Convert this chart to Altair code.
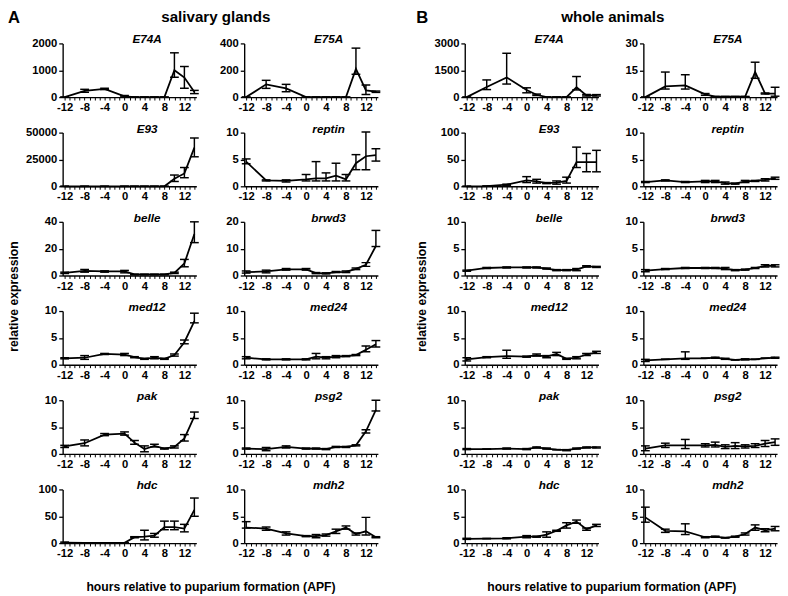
import altair as alt
import pandas as pd

FONT = "Liberation Sans"
W, H = 137, 55
XDOM = [-12.4, 14.4]

hours = [-12, -8, -4, 0, 2, 4, 6, 8, 10, 12, 14]
x_tick_values = list(range(-12, 15))

# ---------------- A: salivary glands ----------------
sg_genes = ["E74A", "E75A", "E93", "reptin", "belle", "brwd3",
            "med12", "med24", "pak", "psg2", "hdc", "mdh2"]
sg_ymax = [2000, 400, 50000, 10, 40, 20, 10, 10, 10, 10, 100, 10]

sg_E74A = [0, 235, 305, 30, 0, 0, 0, 0, 1000, 730, 190]
sg_E74A_lo = [0, 180, 280, 10, 0, 0, 0, 0, 740, 330, 130]
sg_E74A_hi = [0, 290, 330, 60, 0, 0, 0, 0, 1650, 1140, 250]

sg_E75A = [0, 95, 65, 0, 0, 0, 0, 0, 210, 50, 40]
sg_E75A_lo = [0, 65, 40, 0, 0, 0, 0, 0, 170, 20, 35]
sg_E75A_hi = [0, 125, 95, 0, 0, 0, 0, 0, 365, 90, 45]

sg_E93 = [0, 0, 0, 0, 0, 0, 0, 0, 7000, 12000, 36000]
sg_E93_lo = [0, 0, 0, 0, 0, 0, 0, 0, 4500, 8000, 27500]
sg_E93_hi = [0, 0, 0, 0, 0, 0, 0, 0, 10500, 17500, 45000]

sg_reptin = [4.6, 1.1, 1.0, 1.3, 1.5, 1.5, 2.0, 1.3, 4.3, 5.6, 5.8]
sg_reptin_lo = [4.2, 1.0, 0.8, 1.0, 1.0, 1.0, 1.0, 1.0, 3.1, 3.1, 4.7]
sg_reptin_hi = [5.1, 1.2, 1.2, 2.2, 4.6, 2.5, 4.3, 2.2, 5.9, 10.1, 7.0]

sg_belle = [2.0, 3.5, 3.0, 3.0, 0.8, 0.8, 0.8, 0.8, 2.0, 9.0, 31.0]
sg_belle_lo = [1.5, 2.5, 2.5, 2.0, 0.5, 0.5, 0.5, 0.5, 1.5, 6.5, 24.5]
sg_belle_hi = [2.5, 4.5, 3.5, 3.8, 1.0, 1.0, 1.0, 1.0, 2.5, 12.0, 40.0]

sg_brwd3 = [1.3, 1.5, 2.3, 2.3, 0.9, 0.8, 1.3, 1.4, 2.5, 4.0, 11.0]
sg_brwd3_lo = [0.9, 1.0, 2.0, 2.0, 0.7, 0.6, 1.1, 1.1, 2.2, 3.4, 10.8]
sg_brwd3_hi = [1.7, 2.0, 2.6, 2.6, 1.1, 1.0, 1.5, 1.7, 2.8, 4.8, 16.8]

sg_med12 = [1.2, 1.3, 2.0, 1.9, 1.4, 1.1, 1.3, 1.1, 1.8, 4.2, 8.1]
sg_med12_lo = [1.1, 1.0, 1.9, 1.7, 1.3, 1.0, 1.1, 1.0, 1.6, 3.9, 7.8]
sg_med12_hi = [1.3, 1.7, 2.1, 2.1, 1.5, 1.2, 1.5, 1.2, 2.0, 4.6, 9.6]

sg_med24 = [1.3, 1.0, 1.0, 1.0, 1.5, 1.3, 1.5, 1.6, 1.8, 2.8, 3.8]
sg_med24_lo = [1.1, 0.9, 0.9, 0.9, 1.1, 1.1, 1.3, 1.5, 1.7, 2.4, 3.3]
sg_med24_hi = [1.5, 1.1, 1.1, 1.1, 2.1, 1.5, 1.7, 1.7, 1.9, 3.5, 4.5]

sg_pak = [1.4, 2.0, 3.6, 3.8, 2.1, 0.9, 1.5, 1.0, 1.3, 2.9, 7.0]
sg_pak_lo = [1.2, 1.5, 3.4, 3.5, 1.8, 0.4, 1.3, 0.9, 1.1, 2.4, 6.6]
sg_pak_hi = [1.6, 2.6, 3.8, 4.1, 2.5, 1.5, 1.8, 1.1, 1.5, 3.6, 7.8]

sg_psg2 = [1.0, 0.9, 1.3, 1.0, 1.0, 0.9, 1.3, 1.3, 1.6, 4.2, 8.2]
sg_psg2_lo = [0.9, 0.6, 1.1, 0.9, 0.9, 0.8, 1.2, 1.2, 1.5, 3.9, 8.0]
sg_psg2_hi = [1.1, 1.2, 1.5, 1.1, 1.1, 1.0, 1.4, 1.4, 1.7, 4.5, 10.0]

sg_hdc = [1.0, 0.5, 0.5, 0.5, 11, 12, 14, 30, 30, 27, 62]
sg_hdc_lo = [0.0, 0.5, 0.5, 0.5, 10, 6, 11, 25, 25, 21, 50]
sg_hdc_hi = [2.0, 0.5, 0.5, 0.5, 12, 24, 18, 41, 41, 35, 84]

sg_mdh2 = [2.9, 2.7, 1.8, 1.3, 1.3, 1.5, 2.2, 2.9, 1.7, 2.2, 1.1]
sg_mdh2_lo = [2.8, 2.4, 1.5, 1.2, 1.0, 1.3, 1.8, 2.6, 1.5, 1.5, 1.0]
sg_mdh2_hi = [4.0, 3.0, 2.1, 1.4, 1.6, 1.7, 2.6, 3.2, 1.9, 4.8, 1.2]

# ---------------- B: whole animals ----------------
wa_genes = sg_genes
wa_ymax = [3000, 30, 100, 10, 10, 10, 10, 10, 10, 10, 10, 10]

wa_E74A = [0, 560, 1100, 400, 130, 0, 0, 0, 550, 100, 100]
wa_E74A_lo = [0, 420, 730, 240, 90, 0, 0, 0, 400, 60, 60]
wa_E74A_hi = [0, 960, 2450, 520, 170, 0, 0, 0, 1150, 150, 140]

wa_E75A = [0, 6.0, 6.5, 1.5, 0.3, 0.3, 0.3, 0.3, 14.0, 2.0, 2.0]
wa_E75A_lo = [0, 4.5, 4.5, 1.0, 0.3, 0.3, 0.3, 0.3, 10.5, 1.7, 0.5]
wa_E75A_hi = [0, 14.0, 12.5, 2.0, 0.3, 0.3, 0.3, 0.3, 19.5, 2.3, 5.5]

wa_E93 = [0, 0.5, 3, 11, 9, 6, 7, 10, 45, 45, 45]
wa_E93_lo = [0, 0.5, 2, 7, 6, 5, 4, 6, 35, 27, 27]
wa_E93_hi = [0, 0.5, 4, 18, 13, 7, 10, 17, 73, 61, 67]

wa_reptin = [0.8, 1.1, 0.8, 0.9, 0.9, 0.6, 0.5, 0.9, 1.0, 1.2, 1.5]
wa_reptin_lo = [0.7, 1.0, 0.7, 0.7, 0.7, 0.4, 0.4, 0.7, 0.9, 1.0, 1.3]
wa_reptin_hi = [0.9, 1.2, 0.9, 1.1, 1.1, 0.8, 0.6, 1.1, 1.1, 1.4, 1.7]

wa_belle = [0.9, 1.4, 1.5, 1.5, 1.5, 1.3, 1.0, 1.0, 1.1, 1.7, 1.6]
wa_belle_lo = [0.8, 1.3, 1.4, 1.4, 1.4, 1.2, 0.9, 0.9, 0.9, 1.6, 1.5]
wa_belle_hi = [1.0, 1.5, 1.6, 1.6, 1.6, 1.4, 1.1, 1.1, 1.3, 1.8, 1.7]

wa_brwd3 = [0.9, 1.2, 1.4, 1.4, 1.4, 1.3, 1.0, 1.1, 1.4, 1.8, 1.8]
wa_brwd3_lo = [0.7, 1.1, 1.3, 1.3, 1.3, 1.1, 0.9, 1.0, 1.3, 1.6, 1.6]
wa_brwd3_hi = [1.1, 1.3, 1.5, 1.5, 1.5, 1.5, 1.1, 1.2, 1.5, 2.0, 2.0]

wa_med12 = [1.0, 1.4, 1.6, 1.5, 1.8, 1.5, 2.0, 1.1, 1.3, 1.9, 2.3]
wa_med12_lo = [0.7, 1.3, 1.2, 1.4, 1.6, 1.3, 1.7, 1.0, 1.1, 1.7, 2.1]
wa_med12_hi = [1.3, 1.5, 2.7, 1.6, 2.0, 1.7, 2.3, 1.2, 1.5, 2.1, 2.5]

wa_med24 = [0.8, 1.0, 1.2, 1.2, 1.3, 1.1, 0.9, 1.0, 1.0, 1.2, 1.3]
wa_med24_lo = [0.6, 1.0, 1.0, 1.2, 1.2, 1.0, 0.9, 0.9, 1.0, 1.2, 1.2]
wa_med24_hi = [1.0, 1.0, 2.4, 1.2, 1.4, 1.2, 0.9, 1.1, 1.0, 1.2, 1.4]

wa_pak = [0.9, 0.9, 1.0, 0.9, 1.2, 1.0, 0.8, 0.7, 1.0, 1.2, 1.2]
wa_pak_lo = [0.8, 0.9, 0.9, 0.8, 1.1, 0.9, 0.8, 0.6, 0.9, 1.1, 1.1]
wa_pak_hi = [1.0, 0.9, 1.1, 1.0, 1.3, 1.1, 0.8, 0.8, 1.1, 1.3, 1.3]

wa_psg2 = [1.0, 1.6, 1.6, 1.6, 1.7, 1.3, 1.5, 1.4, 1.5, 1.9, 2.2]
wa_psg2_lo = [0.6, 1.2, 1.0, 1.3, 1.3, 1.0, 1.0, 1.1, 1.2, 1.4, 1.6]
wa_psg2_hi = [1.5, 2.0, 2.7, 1.9, 2.2, 1.7, 2.1, 1.7, 1.9, 2.5, 2.8]

wa_hdc = [0.8, 0.85, 0.9, 1.2, 1.2, 1.6, 2.3, 3.3, 4.0, 2.6, 3.3]
wa_hdc_lo = [0.7, 0.85, 0.8, 1.0, 1.1, 1.1, 2.2, 2.8, 3.7, 2.4, 3.1]
wa_hdc_hi = [0.9, 0.85, 1.0, 1.4, 1.3, 2.1, 2.4, 3.8, 4.3, 2.8, 3.5]

wa_mdh2 = [4.8, 2.3, 2.2, 1.1, 1.2, 1.0, 1.2, 1.7, 2.9, 2.4, 2.7]
wa_mdh2_lo = [3.9, 2.0, 1.6, 1.0, 1.1, 0.95, 1.1, 1.5, 2.4, 2.1, 2.3]
wa_mdh2_hi = [6.7, 2.6, 3.6, 1.2, 1.3, 1.05, 1.3, 1.9, 3.4, 2.7, 3.1]

G = globals()


def panel(gene, mean, lo, hi, ymax):
    df = pd.DataFrame({"hour": hours, "mean": mean, "lo": lo, "hi": hi})
    xs = alt.Scale(domain=XDOM, nice=False, zero=False)
    ys = alt.Scale(domain=[0, ymax], nice=False, zero=True)
    xax = alt.Axis(values=x_tick_values,
                   labelExpr="datum.value % 4 == 0 ? '' + datum.value : ''",
                   grid=False, tickSize=3, tickWidth=1, tickColor="black",
                   domainColor="black", domainWidth=1.4,
                   labelFont=FONT, labelFontSize=11.5, labelFontWeight="bold",
                   labelColor="black", labelPadding=2, labelOverlap=False,
                   labelFlush=False)
    yax = alt.Axis(values=[0, ymax / 2, ymax], format="d",
                   grid=False, tickSize=4, tickWidth=1.3, tickColor="black",
                   domainColor="black", domainWidth=1.4,
                   labelFont=FONT, labelFontSize=11.5, labelFontWeight="bold",
                   labelColor="black", labelPadding=2)
    X = alt.X("hour:Q", scale=xs, axis=xax, title=None)
    base = alt.Chart(df)
    bars = base.mark_rule(color="black", strokeWidth=1.5).encode(
        x=X, y=alt.Y("lo:Q", scale=ys, axis=yax, title=None), y2="hi:Q")
    cap_lo = base.mark_tick(orient="horizontal", size=9, thickness=1.5,
                            color="black", opacity=1).encode(
        x=X, y=alt.Y("lo:Q", scale=ys, axis=yax, title=None))
    cap_hi = base.mark_tick(orient="horizontal", size=9, thickness=1.5,
                            color="black", opacity=1).encode(
        x=X, y=alt.Y("hi:Q", scale=ys, axis=yax, title=None))
    line = base.mark_line(color="black", strokeWidth=1.8).encode(
        x=X, y=alt.Y("mean:Q", scale=ys, axis=yax, title=None))
    return alt.layer(bars, cap_lo, cap_hi, line).properties(
        width=W, height=H,
        title=alt.TitleParams(gene, font=FONT, fontSize=12, fontStyle="italic",
                              fontWeight="bold", color="black", anchor="middle",
                              frame="group", dx=18, offset=-18,
                              baseline="alphabetic"))


def group(prefix, genes, ymaxs, head, letter, colsp, xdx, hdx):
    panels = []
    for g, ym in zip(genes, ymaxs):
        panels.append(panel(g, G[f"{prefix}_{g}"], G[f"{prefix}_{g}_lo"],
                            G[f"{prefix}_{g}_hi"], ym))
    core = alt.concat(
        *panels, columns=2, spacing={"row": 36.4, "column": colsp},
        bounds="flush",
        title=alt.TitleParams("relative expression", orient="left",
                              anchor="middle", font=FONT, fontSize=12.5,
                              fontWeight="bold", color="black", offset=5))
    lvl2 = alt.vconcat(
        core,
        title=alt.TitleParams("hours relative to puparium formation (APF)",
                              orient="bottom", anchor="middle", font=FONT,
                              fontSize=12.5, fontWeight="bold", color="black",
                              offset=22, dx=xdx, baseline="top"))
    lvl3 = alt.vconcat(
        lvl2,
        title=alt.TitleParams(head, orient="top", anchor="middle", font=FONT,
                              fontSize=15.5, fontWeight="bold", color="black",
                              offset=-4, dx=hdx, baseline="alphabetic"))
    lvl4 = alt.vconcat(
        lvl3,
        title=alt.TitleParams(letter, orient="top", anchor="start", font=FONT,
                              fontSize=17, fontWeight="bold", color="black",
                              offset=-17, baseline="top"))
    return lvl4


gA = group("sg", sg_genes, sg_ymax, "salivary glands", "A", 49, 17, 22)
gB = group("wa", wa_genes, wa_ymax, "whole animals", "B", 46, 14, 15)

chart = alt.hconcat(gA, gB, spacing=36,
                    padding={"left": 0, "top": -6, "right": 0, "bottom": 0}
                    ).configure_view(stroke="transparent")

chart.save("out.html", embed_options={"renderer": "svg", "actions": False})
